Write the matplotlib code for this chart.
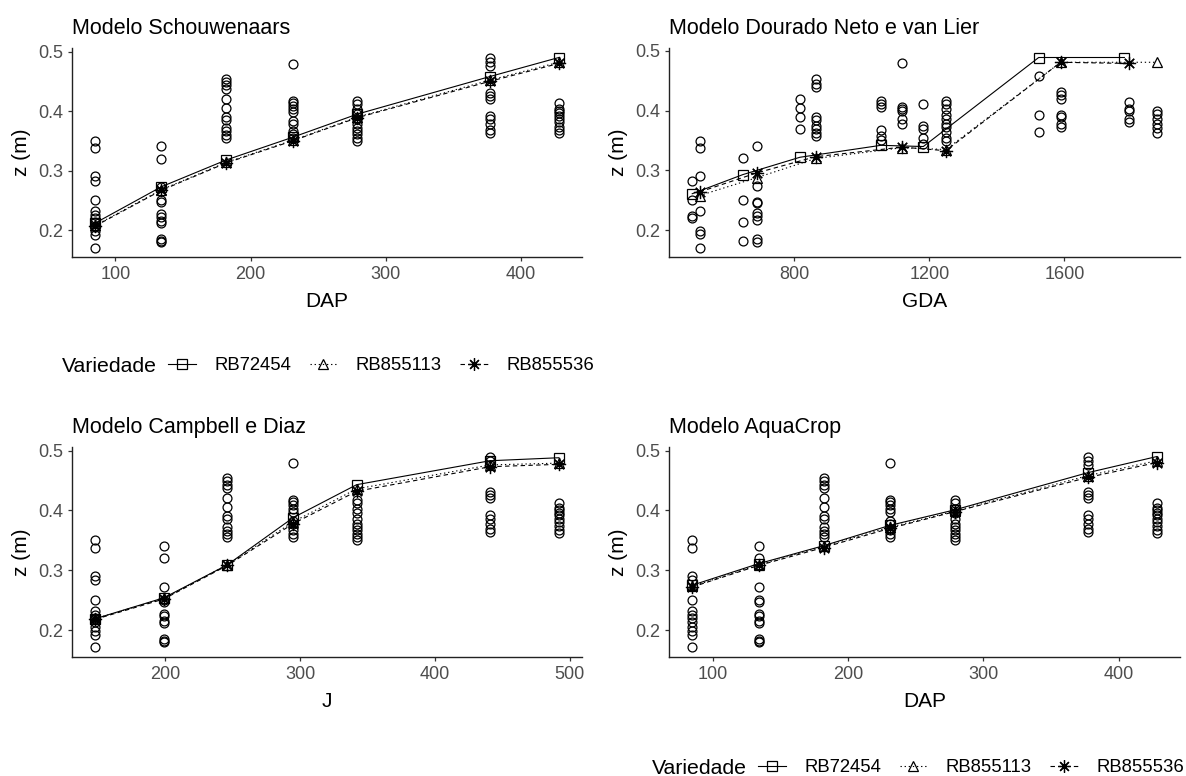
import numpy as np
import matplotlib
matplotlib.use("Agg")
import matplotlib.pyplot as plt
from matplotlib.lines import Line2D

plt.rcParams['font.family'] = ['Liberation Sans', 'DejaVu Sans']

# # # # # # # # # # # # # # # # # # # # # # # # # # # # # # # # # # #
# data

varieties = ["RB72454", "RB855113", "RB855536"]

dap = [85, 134, 182, 231, 279, 377, 428]
j_days = [148, 199, 246, 295, 342, 441, 492]

# observed rooting depth per sampling date (m)
obs_z = [
    [0.350, 0.338, 0.291, 0.283, 0.251, 0.232, 0.226, 0.220, 0.213, 0.206, 0.198, 0.192, 0.171],
    [0.341, 0.320, 0.272, 0.250, 0.247, 0.227, 0.223, 0.215, 0.212, 0.185, 0.182, 0.180],
    [0.454, 0.449, 0.443, 0.437, 0.420, 0.405, 0.390, 0.385, 0.372, 0.366, 0.360, 0.355],
    [0.479, 0.417, 0.414, 0.409, 0.403, 0.398, 0.383, 0.378, 0.367, 0.361, 0.355],
    [0.417, 0.412, 0.403, 0.395, 0.386, 0.378, 0.372, 0.367, 0.361, 0.355, 0.350],
    [0.490, 0.483, 0.476, 0.431, 0.426, 0.420, 0.392, 0.386, 0.378, 0.369, 0.364],
    [0.413, 0.404, 0.400, 0.396, 0.392, 0.386, 0.381, 0.374, 0.368, 0.363],
]

# observed depth against GDA (columns)
gda_obs_x = [497, 519, 647, 689, 816, 863, 1056, 1119, 1182, 1249, 1524, 1589, 1791, 1874]
gda_obs_z = [
    [0.282, 0.250, 0.223, 0.221],
    [0.350, 0.338, 0.290, 0.232, 0.199, 0.193, 0.171],
    [0.320, 0.251, 0.213, 0.182],
    [0.341, 0.274, 0.247, 0.246, 0.229, 0.223, 0.217, 0.185, 0.180],
    [0.420, 0.405, 0.389, 0.369],
    [0.453, 0.445, 0.440, 0.389, 0.384, 0.375, 0.369, 0.363, 0.357],
    [0.417, 0.411, 0.406, 0.368, 0.358, 0.351],
    [0.479, 0.406, 0.403, 0.400, 0.386, 0.378],
    [0.411, 0.374, 0.369, 0.355, 0.344],
    [0.417, 0.411, 0.403, 0.393, 0.386, 0.378, 0.372, 0.364, 0.355, 0.350],
    [0.458, 0.392, 0.364],
    [0.431, 0.426, 0.420, 0.393, 0.389, 0.378, 0.372],
    [0.414, 0.403, 0.400, 0.386, 0.381],
    [0.400, 0.395, 0.386, 0.378, 0.371, 0.363],
]

# simulated depth, Schouwenaars (vs DAP)
schou_z = {
    "RB72454":  [0.212, 0.273, 0.318, 0.356, 0.395, 0.458, 0.490],
    "RB855113": [0.208, 0.268, 0.314, 0.351, 0.390, 0.452, 0.482],
    "RB855536": [0.207, 0.267, 0.313, 0.350, 0.389, 0.450, 0.480],
}

# simulated depth, Dourado Neto e van Lier (vs GDA)
gda_x = {
    "RB72454":  [497, 647, 816, 1056, 1182, 1524, 1778],
    "RB855113": [519, 689, 863, 1119, 1249, 1589, 1874],
    "RB855536": [519, 689, 863, 1119, 1249, 1589, 1791],
}
gda_z = {
    "RB72454":  [0.261, 0.293, 0.322, 0.342, 0.340, 0.489, 0.489],
    "RB855113": [0.258, 0.288, 0.320, 0.338, 0.335, 0.481, 0.481],
    "RB855536": [0.264, 0.296, 0.323, 0.339, 0.333, 0.481, 0.479],
}

# simulated depth, Campbell e Diaz (vs J)
camp_z = {
    "RB72454":  [0.219, 0.254, 0.309, 0.388, 0.443, 0.483, 0.488],
    "RB855113": [0.219, 0.253, 0.309, 0.381, 0.436, 0.476, 0.479],
    "RB855536": [0.218, 0.252, 0.308, 0.378, 0.432, 0.473, 0.477],
}

# simulated depth, AquaCrop (vs DAP)
aqua_z = {
    "RB72454":  [0.275, 0.311, 0.341, 0.375, 0.401, 0.463, 0.490],
    "RB855113": [0.273, 0.309, 0.340, 0.372, 0.399, 0.458, 0.483],
    "RB855536": [0.272, 0.308, 0.338, 0.370, 0.398, 0.455, 0.480],
}

# # # # # # # # # # # # # # # # # # # # # # # # # # # # # # # # # # #
# styles

W, H = 1186, 776
lstyle = {"RB72454": "-", "RB855113": (0, (1.2, 2.5)), "RB855536": (0, (4, 3))}
mstyle = {"RB72454": "s", "RB855113": "^", "RB855536": (8, 2, 0)}
msize = {"RB72454": 7.5, "RB855113": 7.5, "RB855536": 9.5}
tick_col = "#4D4D4D"


def expand(vals):
    lo, hi = min(vals), max(vals)
    d = (hi - lo) * 0.05
    return lo - d, hi + d


def panel(rect, title, xlab, obs_x, obs_cols, sim_x, sim_z, xticks):
    ax = fig.add_axes([rect[0] / W, 1 - rect[3] / H,
                       (rect[2] - rect[0]) / W, (rect[3] - rect[1]) / H])
    allx, ally = [], []
    for xv, col in zip(obs_x, obs_cols):
        ax.plot([xv] * len(col), col, linestyle='none', marker='o', ms=6.4,
                mfc='none', mec='black', mew=0.9)
        allx.append(xv)
        ally += col
    for v in varieties:
        ax.plot(sim_x[v], sim_z[v], color='black', lw=0.8, linestyle=lstyle[v],
                marker=mstyle[v], ms=msize[v], mfc='none', mec='black', mew=0.9)
        allx += sim_x[v]
        ally += sim_z[v]
    ax.set_xlim(*expand(allx))
    ax.set_ylim(*expand(ally))
    ax.set_xticks(xticks)
    ax.set_yticks([0.2, 0.3, 0.4, 0.5])
    ax.set_yticklabels(["0.2", "0.3", "0.4", "0.5"])
    for s in ['top', 'right']:
        ax.spines[s].set_visible(False)
    for s in ['left', 'bottom']:
        ax.spines[s].set_linewidth(1.0)
        ax.spines[s].set_color('#222222')
    ax.tick_params(length=3.2, width=0.9, color='#333333', labelcolor=tick_col,
                   labelsize=13, pad=3)
    ax.set_xlabel(xlab, fontsize=15, labelpad=7)
    ax.set_ylabel("z (m)", fontsize=15, labelpad=5)
    ax.set_title(title, loc='left', fontsize=15.5, pad=10)
    return ax


def legend_row(x0, yc):
    fig.text(x0 / W, 1 - yc / H, "Variedade", fontsize=15.3, va='center', ha='left')
    handles = [Line2D([0], [0], color='black', lw=0.8, linestyle=lstyle[v],
                      marker=mstyle[v], ms=msize[v] - 0.5, mfc='none', mec='black', mew=0.9)
               for v in varieties]
    fig.legend(handles, varieties, loc='center left', ncol=3, frameon=False,
               bbox_to_anchor=((x0 + 106) / W, 1 - yc / H), fontsize=13.3,
               handlelength=1.5, handletextpad=1.0, columnspacing=1.0,
               borderpad=0, borderaxespad=0)


fig = plt.figure(figsize=(W / 100, H / 100), dpi=100)

# rect = (left, top, right, bottom) in pixels
def dict_x(xs):
    return {v: xs for v in varieties}

panel((72, 48, 582, 257), "Modelo Schouwenaars", "DAP", dap, obs_z,
      dict_x(dap), schou_z, [100, 200, 300, 400])
panel((669, 48, 1180, 257), "Modelo Dourado Neto e van Lier", "GDA", gda_obs_x, gda_obs_z,
      gda_x, gda_z, [800, 1200, 1600])
panel((72, 447, 582, 657), "Modelo Campbell e Diaz", "J", j_days, obs_z,
      dict_x(j_days), camp_z, [200, 300, 400, 500])
panel((669, 447, 1180, 657), "Modelo AquaCrop", "DAP", dap, obs_z,
      dict_x(dap), aqua_z, [100, 200, 300, 400])

legend_row(62, 366)
legend_row(652, 768)

fig.savefig("out.png", dpi=100)
